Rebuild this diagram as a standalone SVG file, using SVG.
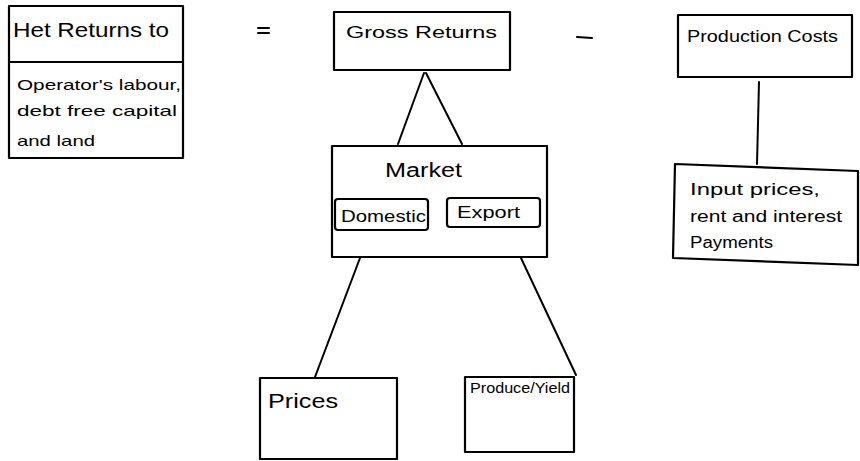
<svg xmlns="http://www.w3.org/2000/svg" width="860" height="461" viewBox="0 0 860 461">
<style>
.box{fill:none;stroke:#000;stroke-width:2.2;stroke-linejoin:round}
.ln{stroke:#000;stroke-width:2;fill:none;stroke-linecap:round}
text{font-family:"Liberation Sans","DejaVu Sans",sans-serif;fill:#000}
</style>
<rect width="860" height="461" fill="#fff"/>
<g id="net-returns">
<rect class="box" x="9" y="6" width="174" height="152"/>
<line class="ln" x1="9" y1="62" x2="183" y2="62"/>
<text x="13" y="37" font-size="21" textLength="156" lengthAdjust="spacingAndGlyphs">Het Returns to</text>
<text x="17" y="90" font-size="15" textLength="164" lengthAdjust="spacingAndGlyphs">Operator's labour,</text>
<text x="17" y="116" font-size="15" textLength="160" lengthAdjust="spacingAndGlyphs">debt free capital</text>
<text x="17" y="146" font-size="15" textLength="78" lengthAdjust="spacingAndGlyphs">and land</text>
</g>
<g id="equals">
<line class="ln" x1="258" y1="28" x2="269" y2="28" stroke-width="2.5"/>
<line class="ln" x1="258" y1="33" x2="269" y2="33" stroke-width="2.5"/>
</g>
<g id="gross-returns">
<rect class="box" x="334" y="12" width="176" height="58"/>
<text x="346" y="38" font-size="17" textLength="151" lengthAdjust="spacingAndGlyphs">Gross Returns</text>
</g>
<g id="minus">
<line class="ln" x1="577" y1="37" x2="592" y2="38" stroke-width="2.5"/>
</g>
<g id="production-costs">
<rect class="box" x="678" y="15" width="174" height="62"/>
<text x="687" y="42" font-size="16" textLength="151" lengthAdjust="spacingAndGlyphs">Production Costs</text>
</g>
<g id="input-prices">
<polygon class="box" points="675,164 858,171 858,265 673,258"/>
<text x="690" y="195" font-size="16" textLength="130" lengthAdjust="spacingAndGlyphs">Input prices,</text>
<text x="690" y="222" font-size="16" textLength="152" lengthAdjust="spacingAndGlyphs">rent and interest</text>
<text x="690" y="248" font-size="16" textLength="83" lengthAdjust="spacingAndGlyphs">Payments</text>
</g>
<g id="market">
<rect class="box" x="332" y="146" width="215" height="111"/>
<text x="385" y="177" font-size="20" textLength="77" lengthAdjust="spacingAndGlyphs">Market</text>
<g id="domestic">
<rect class="box" x="335" y="199" width="93" height="31" rx="3"/>
<text x="341" y="222" font-size="17" textLength="85" lengthAdjust="spacingAndGlyphs">Domestic</text>
</g>
<g id="export">
<rect class="box" x="447" y="198" width="93" height="29" rx="3"/>
<text x="457" y="218" font-size="17" textLength="63" lengthAdjust="spacingAndGlyphs">Export</text>
</g>
</g>
<g id="prices">
<rect class="box" x="260" y="378" width="137" height="81"/>
<text x="268" y="408" font-size="21" textLength="70" lengthAdjust="spacingAndGlyphs">Prices</text>
</g>
<g id="produce-yield">
<rect class="box" x="465" y="377" width="109" height="75"/>
<text x="470" y="393" font-size="14" textLength="100" lengthAdjust="spacingAndGlyphs">Produce/Yield</text>
</g>
<g id="connectors">
<line class="ln" x1="424" y1="73" x2="398" y2="144"/>
<line class="ln" x1="426" y1="73" x2="462" y2="144"/>
<line class="ln" x1="759" y1="82" x2="757" y2="164"/>
<line class="ln" x1="360" y1="258" x2="315" y2="377"/>
<line class="ln" x1="521" y1="258" x2="576" y2="375"/>
</g>
</svg>
